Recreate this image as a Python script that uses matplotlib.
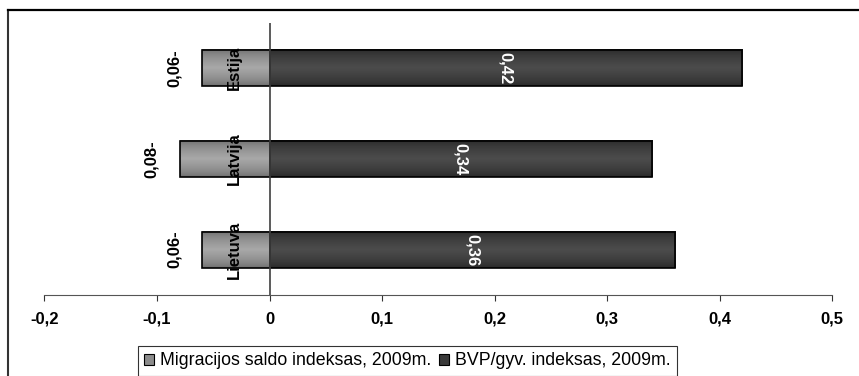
import numpy as np
import matplotlib
matplotlib.use('Agg')
import matplotlib.pyplot as plt
from matplotlib.patches import Patch
from matplotlib.lines import Line2D

plt.rcParams['font.family'] = ['Liberation Sans', 'DejaVu Sans']

# data
countries = ['Lietuva', 'Latvija', 'Estija']
migr = [-0.06, -0.08, -0.06]
bvp = [0.36, 0.34, 0.42]
migr_labels = ['0,06-', '0,08-', '0,06-']
bvp_labels = ['0,36', '0,34', '0,42']
xticks = [-0.2, -0.1, 0, 0.1, 0.2, 0.3, 0.4, 0.5]
xticklabels = ['-0,2', '-0,1', '0', '0,1', '0,2', '0,3', '0,4', '0,5']
legend_names = ['Migracijos saldo indeksas, 2009m.', 'BVP/gyv. indeksas, 2009m.']

fig = plt.figure(figsize=(8.59, 3.76), dpi=100)
ax = fig.add_axes([0.0518, 0.2154, 0.9168, 0.7234])

h = 0.4
y = np.arange(len(countries))

def grad_bar(x0, x1, yc, c_edge, c_mid):
    # vertical gradient: darker at top/bottom, lighter in the middle
    t = np.linspace(0, 1, 64)
    w = 1 - np.abs(t - 0.5) * 2
    w = w ** 0.6
    ce = np.array(matplotlib.colors.to_rgb(c_edge))
    cm = np.array(matplotlib.colors.to_rgb(c_mid))
    img = ce[None, :] * (1 - w[:, None]) + cm[None, :] * w[:, None]
    img = img[:, None, :]
    ax.imshow(img, extent=[x0, x1, yc - h / 2, yc + h / 2], aspect='auto',
              interpolation='bilinear', zorder=2)
    ax.add_patch(plt.Rectangle((x0, yc - h / 2), x1 - x0, h, fill=False,
                               edgecolor='black', lw=1.2, zorder=3))

for i in range(len(countries)):
    grad_bar(migr[i], 0, y[i], '#6a6a6a', '#a8a8a8')
    grad_bar(0, bvp[i], y[i], '#262626', '#4c4c4c')
    ax.annotate(migr_labels[i], (migr[i], y[i]), xytext=(-20, 0),
                textcoords='offset points', rotation=90, ha='center', va='center',
                fontsize=12, fontweight='bold', zorder=5)
    ax.text(bvp[i] / 2, y[i], bvp_labels[i], rotation=270, ha='center', va='center',
            fontsize=12, fontweight='bold', color='white', zorder=5)
    ax.text(-0.031, y[i], countries[i], rotation=90, ha='center', va='center',
            fontsize=12, fontweight='bold', zorder=5)

ax.axvline(0, color='#404040', lw=1.2, zorder=4)

ax.set_xlim(-0.2, 0.5)
ax.set_ylim(-0.5, 2.5)
ax.set_xticks(xticks)
ax.set_xticklabels(xticklabels, fontsize=12, fontweight='bold')
ax.set_yticks([])
for s in ['top', 'right', 'left']:
    ax.spines[s].set_visible(False)
ax.spines['bottom'].set_color('#555555')
ax.tick_params(axis='x', direction='out', length=4, color='#333333', pad=8)

handles = [Patch(facecolor='#8c8c8c', edgecolor='black', lw=0.8),
           Patch(facecolor='#3a3a3a', edgecolor='black', lw=0.8)]
leg = fig.legend(handles, legend_names, loc='center', bbox_to_anchor=(0.474, 0.04),
                 ncol=2, fontsize=12.8, frameon=True, fancybox=False, borderpad=0.35,
                 handlelength=0.55, handleheight=0.55, handletextpad=0.35, columnspacing=0.45,
                 borderaxespad=0)
leg.get_frame().set_edgecolor('black')
leg.get_frame().set_linewidth(0.8)

# outer chart border
fig.add_artist(Line2D([8 / 859, 8 / 859], [0, 1 - 9.5 / 376], transform=fig.transFigure,
                      color='#333333', lw=1.5))
fig.add_artist(Line2D([8 / 859, 1], [1 - 9.5 / 376, 1 - 9.5 / 376], transform=fig.transFigure,
                      color='black', lw=1.6))

fig.savefig('out.png', dpi=100)
